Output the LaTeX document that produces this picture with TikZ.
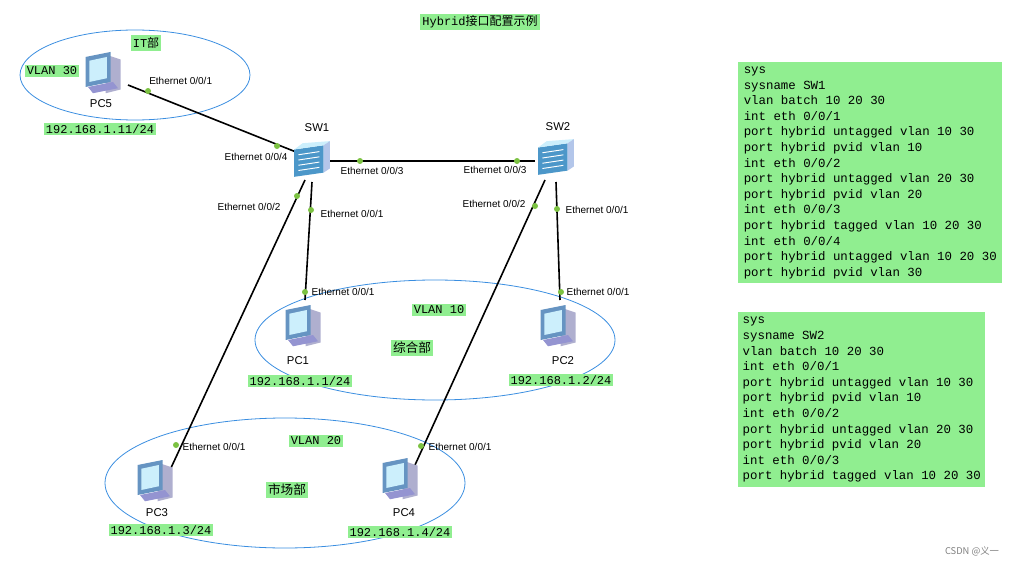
\documentclass[tikz,border=0pt]{standalone}
\usepackage{fontspec}
\setmainfont{Liberation Sans}
\setmonofont{Liberation Mono}
\newfontfamily\cjk{Noto Sans CJK SC}
\definecolor{lg}{HTML}{90EE90}
\definecolor{eb}{HTML}{3A8EE0}
\definecolor{dg}{HTML}{7CC242}
\begin{document}
\begin{tikzpicture}[x=0.75pt,y=-0.75pt,
  eth/.style={font=\fontsize{7.5}{9}\selectfont, inner sep=0pt},
  lbl/.style={font=\fontsize{8.5}{10}\selectfont, inner sep=0pt},
  tag/.style={fill=lg, font=\ttfamily\fontsize{9}{10}\selectfont, inner sep=1.5pt},
  ctag/.style={fill=lg, font=\cjk\fontsize{9.5}{11}\selectfont, inner sep=1.5pt},
  zone/.style={draw=eb, line width=0.6pt},
  link/.style={line width=1.2pt},
  dot/.style={circle, fill=dg, inner sep=0pt, minimum size=4.5pt},
  code/.style={fill=lg, anchor=north west, align=left, inner sep=3pt,
    font=\ttfamily\fontsize{9.3}{11.7}\selectfont},
  pc/.pic={
    \fill[blue!25!gray!50] (2,-14) -- (14,-10) -- (14,14) -- (2,17) -- cycle;
    \fill[blue!50!cyan!60!black!60] (-14,-12) -- (6,-16) -- (6,8) -- (-14,12) -- cycle;
    \fill[cyan!20!white] (-11,-9) -- (3,-12) -- (3,5) -- (-11,8) -- cycle;
    \fill[blue!40!gray!60] (-12,12) -- (8,8) -- (12,13) -- (-8,17) -- cycle;
  },
  sw/.pic={
    \fill[blue!40!cyan!70!black!70] (-16,-10) -- (12,-14) -- (12,12) -- (-16,16) -- cycle;
    \fill[cyan!20!white] (-16,-10) -- (-8,-16) -- (18,-18) -- (12,-14) -- cycle;
    \fill[cyan!50!blue!30] (12,-14) -- (18,-18) -- (18,8) -- (12,12) -- cycle;
    \foreach \yy in {-5,0,5,10}{\draw[white,line width=0.7pt] (-12,\yy) -- (8,\yy-3);}
  }]
\useasboundingbox (0,0) rectangle (1021,567);
\draw[zone] (135,75) ellipse (115 and 45);
\draw[zone] (435,340) ellipse (180 and 60);
\draw[zone] (285,483) ellipse (180 and 65);
\coordinate (pc5) at (103,72); \coordinate (pc1) at (303,325); \coordinate (pc2) at (558,325);
\coordinate (pc3) at (155,480); \coordinate (pc4) at (400,478);
\coordinate (sw1) at (311,160); \coordinate (sw2) at (555,158);
\draw[link] (128,85) -- (296,152);
\draw[link] (330,161) -- (535,161);
\draw[link] (305,180) -- (170,470);
\draw[link] (312,182) -- (305,300);
\draw[link] (545,180) -- (415,465);
\draw[link] (556,182) -- (560,300);
\foreach \p in {pc5,pc1,pc2,pc3,pc4} \pic[scale=1.25] at (\p) {pc};
\foreach \p in {sw1,sw2} \pic[scale=1.05] at (\p) {sw};
\foreach \x/\y in {148/91,277/146,360/161,517/161,297/196,176/445,311/210,305/292,535/206,421/446,557/209,561/292}
  \node[dot] at (\x,\y) {};
\node[eth,anchor=west] at (149,81) {Ethernet 0/0/1};
\node[eth] at (256,157) {Ethernet 0/0/4};
\node[eth] at (372,171) {Ethernet 0/0/3};
\node[eth] at (495,170) {Ethernet 0/0/3};
\node[eth] at (249,207) {Ethernet 0/0/2};
\node[eth] at (352,214) {Ethernet 0/0/1};
\node[eth] at (343,292) {Ethernet 0/0/1};
\node[eth] at (494,204) {Ethernet 0/0/2};
\node[eth] at (597,210) {Ethernet 0/0/1};
\node[eth] at (598,292) {Ethernet 0/0/1};
\node[eth] at (214,447) {Ethernet 0/0/1};
\node[eth] at (460,447) {Ethernet 0/0/1};
\node[lbl] (l5) at (101,104) {PC5};
\node[lbl] (l1) at (298,361) {PC1};
\node[lbl] (l2) at (563,361) {PC2};
\node[lbl] (l3) at (157,513) {PC3};
\node[lbl] (l4) at (404,513) {PC4};
\node[lbl] (s1) at (317,128) {SW1};
\node[lbl] (s2) at (558,127) {SW2};
\node[tag] (title) at (480,22) {Hybrid{\cjk 接口配置示例}};
\node[tag] (it) at (146,43) {IT{\cjk 部}};
\node[tag] (v30) at (52,71) {VLAN 30};
\node[tag] (v10) at (439,310) {VLAN 10};
\node[tag] (v20) at (316,441) {VLAN 20};
\node[ctag] (z1) at (412,348) {综合部};
\node[ctag] (z2) at (287,490) {市场部};
\node[tag] (ip5) at (100,129) {192.168.1.11/24};
\node[tag] (ip1) at (300,381) {192.168.1.1/24};
\node[tag] (ip2) at (561,380) {192.168.1.2/24};
\node[tag] (ip3) at (161,530) {192.168.1.3/24};
\node[tag] (ip4) at (400,532) {192.168.1.4/24};
\node[code, minimum width=264*0.75pt, minimum height=221*0.75pt] (c1) at (738,62) {sys\\sysname SW1\\vlan batch 10 20 30\\int eth 0/0/1\\port hybrid untagged vlan 10 30\\port hybrid pvid vlan 10\\int eth 0/0/2\\port hybrid untagged vlan 20 30\\port hybrid pvid vlan 20\\int eth 0/0/3\\port hybrid tagged vlan 10 20 30\\int eth 0/0/4\\port hybrid untagged vlan 10 20 30\\port hybrid pvid vlan 30};
\node[code, minimum width=247*0.75pt, minimum height=175*0.75pt] (c2) at (738,312) {sys\\sysname SW2\\vlan batch 10 20 30\\int eth 0/0/1\\port hybrid untagged vlan 10 30\\port hybrid pvid vlan 10\\int eth 0/0/2\\port hybrid untagged vlan 20 30\\port hybrid pvid vlan 20\\int eth 0/0/3\\port hybrid tagged vlan 10 20 30};
\node[font=\cjk\fontsize{7}{8}\selectfont, text=gray] (wm) at (972,551) {CSDN @义一};
\end{tikzpicture}
\end{document}
